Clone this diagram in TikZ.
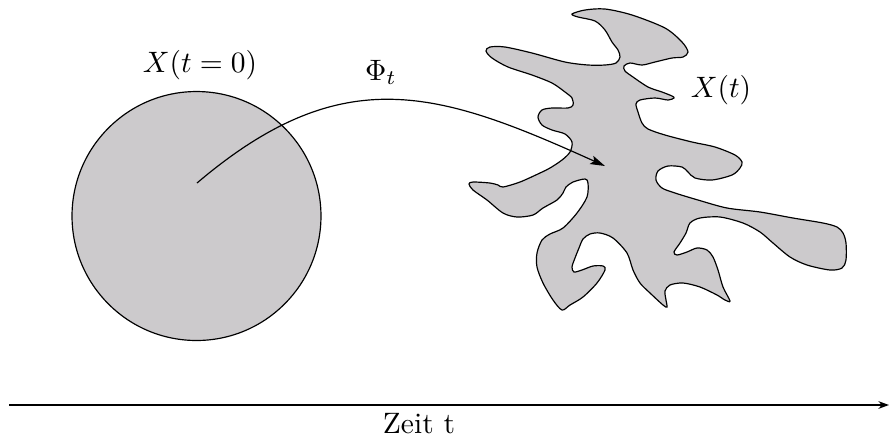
\documentclass[tikz,border=0pt]{standalone}
\usetikzlibrary{arrows.meta}
\definecolor{regiongray}{RGB}{204,202,204}
\begin{document}
\begin{tikzpicture}[x=0.339pt,y=-0.339pt,
  region/.style={draw=black,fill=regiongray,line width=0.4pt},
  flowarrow/.style={line width=0.4pt,-{Stealth[length=5pt,width=3pt,inset=1pt]}},
  timeaxis/.style={line width=0.5pt,-{Stealth[length=3.6pt,width=2.6pt]}},
  lbl/.style={anchor=base,inner sep=0pt}]
\useasboundingbox (0,0) rectangle (889,444);
% initial set
\node (ball) [circle,region,minimum size=84.4pt,inner sep=0pt] at (196.5,216) {};
% evolved set
\filldraw[region] plot[smooth cycle,tension=0.5] coordinates {
(572,14) (585,10) (605,9) (632,15) (665,28) (682,42) (688,52) (683,57) (672,58)
(655,62) (642,65) (630,63) (624,66) (625,71) (633,77) (648,87) (662,92) (672,96)
(674,98) (668,100) (655,98) (640,100) (636,104) (638,112) (642,123) (648,129)
(665,135) (692,142) (715,147) (735,155) (742,162) (740,168) (732,175) (712,180)
(695,178) (688,172) (682,167) (668,166) (658,171) (656,180) (662,188) (675,193)
(698,200) (727,208) (760,212) (793,218) (823,223) (837,227) (843,233) (846,243)
(846,260) (842,268) (830,270) (807,265) (790,257) (773,243) (760,232) (743,223)
(720,217) (700,218) (690,223) (686,233) (680,243) (674,252) (677,255) (687,252)
(697,248) (707,250) (713,257) (718,270) (723,287) (730,301) (725,300) (717,295)
(700,287) (683,283) (670,285) (665,291) (666,300) (667,307) (663,305) (650,293)
(640,283) (633,270) (627,253) (613,238) (600,233) (590,234) (583,239) (579,248)
(575,258) (572,267) (574,272) (582,270) (593,266) (603,266) (605,270) (597,283)
(583,297) (570,305) (562,310) (553,300) (543,283) (537,267) (537,253) (542,240)
(550,234) (563,228) (577,213) (587,197) (588,183) (585,179) (573,182) (566,187)
(563,193) (557,200) (543,208) (533,215) (517,217) (503,213) (487,200) (473,190)
(469,184) (473,182) (490,183) (498,185) (503,187) (520,182) (540,173) (550,168)
(562,160) (570,152) (572,142) (565,134) (552,130) (542,125) (538,117) (542,110)
(552,108) (568,108) (573,105) (572,98) (565,92) (552,83) (532,75) (508,67)
(492,58) (486,51) (490,47) (505,47) (532,53) (565,62) (588,65) (605,65) (616,63)
(620,57) (618,50) (612,42) (605,30) (595,21) (578,17)};
\coordinate (source) at (197,183);
\coordinate (target) at (605,166);
% flow map
\draw[flowarrow] (source) .. controls (343,59) and (439,91) .. (target);
% labels
\node (x0) [lbl] at (200,72) {$X(t=0)$};
\node (phi) [lbl] at (381,80) {$\Phi_t$};
\node (xt) [lbl] at (721,97) {$X(t)$};
% time axis
\coordinate (tstart) at (9,405);
\coordinate (tend) at (889,405);
\draw[timeaxis] (tstart) -- (tend);
\node (zeit) [lbl] at (419,433) {Zeit t};
\end{tikzpicture}
\end{document}
